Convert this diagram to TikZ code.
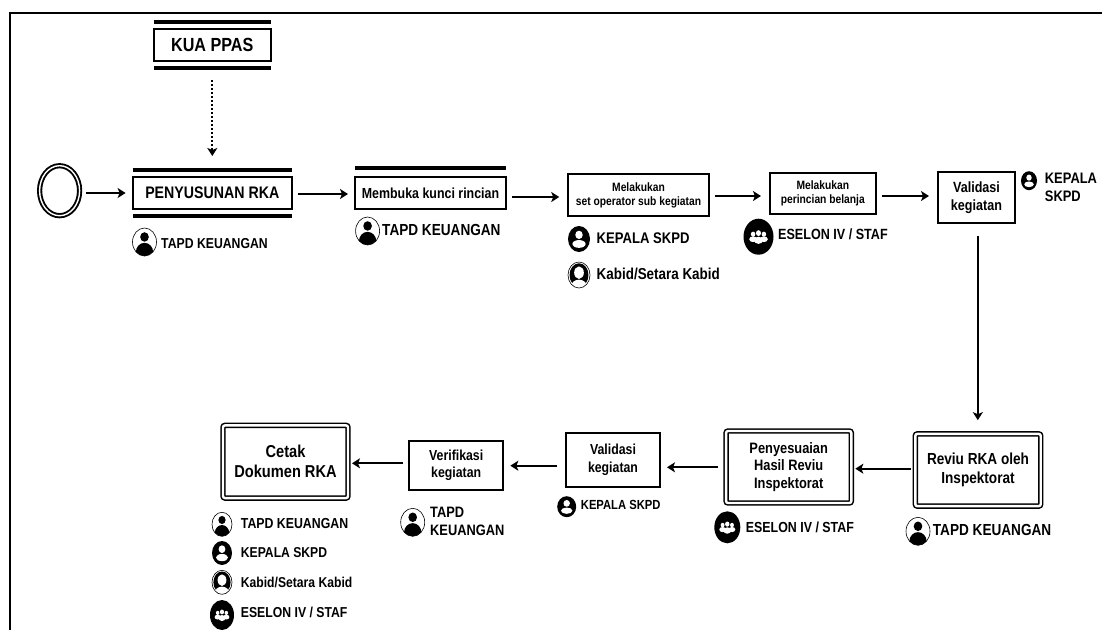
\documentclass[tikz,border=0pt]{standalone}
\usepackage{fontspec}
\setmainfont[FakeStretch=0.85]{Liberation Sans}
\usepackage{tikz}
\usetikzlibrary{shapes.geometric, arrows.meta, positioning, calc}
\newcommand{\fz}[2]{\fontsize{#1}{#2}\selectfont\bfseries}

\begin{document}
\begin{tikzpicture}[
    x=1pt, y=-1pt,
    box/.style 2 args={rectangle, draw, line width=1.9pt, inner sep=0pt, outer sep=0pt, minimum width=#1pt, minimum height=#2pt, align=center},
    dbox/.style 2 args={box={#1}{#2}, minimum width=#1pt-4pt, minimum height=#2pt-4pt, rounded corners=2pt, double, double distance=2.4pt, line width=1.5pt},
    bar/.style={line width=3.2pt},
    arrow/.style={-{Stealth[length=8pt, width=10pt, inset=2pt]}, line width=2pt, shorten <=6pt, shorten >=7pt},
    lbl/.style={inner sep=0pt, align=left},
    icon/.style 2 args={ellipse, inner sep=0pt, outer sep=0pt, minimum width=2*#1pt, minimum height=2*#2pt},
    tapdicon/.style 2 args={icon={#1}{#2}, draw, line width=.6pt, path picture={
        \begin{scope}[shift={(path picture bounding box.center)}, x=#1pt, y=#2pt]
        \fill (0,.36) ellipse [x radius=.36, y radius=.34];
        \fill (0,-.72) ellipse [x radius=.72, y radius=.66];
        \end{scope}}},
    kepalaicon/.style 2 args={icon={#1}{#2}, fill=black, path picture={
        \begin{scope}[shift={(path picture bounding box.center)}, x=#1pt, y=#2pt]
        \fill[white] (0,.32) ellipse [x radius=.34, y radius=.32];
        \fill[white] (0,-.38) ellipse [x radius=.6, y radius=.3];
        \end{scope}}},
    kabidicon/.style 2 args={icon={#1}{#2}, draw, line width=.6pt, path picture={
        \begin{scope}[shift={(path picture bounding box.center)}, x=#1pt, y=#2pt]
        \fill (0,0) ellipse [x radius=.86, y radius=.9];
        \fill[white] (0,.18) ellipse [x radius=.44, y radius=.48];
        \fill[white] (0,-.88) ellipse [x radius=.72, y radius=.52];
        \end{scope}}},
    eselonicon/.style 2 args={icon={#1}{#2}, fill=black, path picture={
        \begin{scope}[shift={(path picture bounding box.center)}, x=#1pt, y=#2pt]
        \fill[white] (-.36,.14) ellipse [x radius=.15, y radius=.14];
        \fill[white] (.36,.14) ellipse [x radius=.15, y radius=.14];
        \fill[white] (-.36,-.14) ellipse [x radius=.26, y radius=.16];
        \fill[white] (.36,-.14) ellipse [x radius=.26, y radius=.16];
        \fill[white] (0,.2) ellipse [x radius=.17, y radius=.16];
        \fill[white] (0,-.2) ellipse [x radius=.3, y radius=.2];
        \end{scope}}},
]
\useasboundingbox (0,0) rectangle (1102,630);

% Frame
\draw[line width=1.8pt] (10,630) |- (1102,13.3);

% Top row
\node[ellipse, draw, double, double distance=1.4pt, line width=1.9pt, inner sep=0pt, minimum width=40pt, minimum height=50pt] (start) at (59.6,190.7) {};
\node[box={117.4}{32}, font=\fz{19}{22}] (kua) at (212.3,45) {KUA PPAS};
\node[box={159.4}{32}, font=\fz{16.7}{20}] (penyusunan) at (212.3,193) {PENYUSUNAN RKA};
\node[box={151}{32}, font=\fz{14.6}{18}] (membuka) at (430.5,193) {Membuka kunci rincian};
\node[box={140.5}{42}, font=\fz{12.1}{14}] (operator) at (638.5,195) {Melakukan\\set operator sub kegiatan};
\node[box={105.7}{41.3}, font=\fz{12.1}{14}] (perincian) at (822.8,193.3) {Melakukan\\perincian belanja};
\node[box={77}{51}, font=\fz{14.8}{18}] (validasi) at (976.5,197.5) {Validasi\\kegiatan};

% Bottom row
\node[dbox={129.4}{76.3}, font=\fz{16}{18.7}] (reviu) at (978,470) {Reviu RKA oleh\\Inspektorat};
\node[dbox={129.3}{76}, font=\fz{15.1}{17.4}] (penyesuaian) at (788.7,467) {Penyesuaian\\Hasil Reviu\\Inspektorat};
\node[box={94}{53.4}, font=\fz{14.5}{17.7}] (validasiB) at (613,460) {Validasi\\kegiatan};
\node[box={94.3}{49}, font=\fz{14.5}{17.3}] (verifikasi) at (456.2,465.5) {Verifikasi\\kegiatan};
\node[dbox={129}{76.7}, font=\fz{17.2}{20}] (cetak) at (285.5,461.7) {Cetak\\Dokumen RKA};

% Bars
\draw[bar] ([yshift=7pt]kua.north west) -- ([yshift=7pt]kua.north east);
\draw[bar] ([yshift=-7pt]kua.south west) -- ([yshift=-7pt]kua.south east);
\draw[bar] ([yshift=7pt]penyusunan.north west) -- ([yshift=7pt]penyusunan.north east);
\draw[bar] ([yshift=-7pt]penyusunan.south west) -- ([yshift=-7pt]penyusunan.south east);
\draw[bar] ([yshift=9pt]membuka.north west) -- ([yshift=9pt]membuka.north east);

% Arrows
\draw[arrow, dash pattern=on 2pt off 2pt, shorten <=19pt, shorten >=21pt] (kua.south) -- (penyusunan.north);
\draw[arrow, shorten <=5pt] ([yshift=-2.3pt]start.east) -- ([yshift=-2.3pt]start.east -| penyusunan.west);
\draw[arrow] ([yshift=-1pt]penyusunan.east) -- ([yshift=-1pt]penyusunan.east -| membuka.west);
\draw[arrow, shorten >=9pt] ([yshift=-4pt]membuka.east) -- ([yshift=-4pt]membuka.east -| operator.west);
\draw[arrow, shorten >=9pt] ([yshift=-1pt]operator.east) -- ([yshift=-1pt]operator.east -| perincian.west);
\draw[arrow, shorten >=9pt] ([yshift=-2.7pt]perincian.east) -- ([yshift=-2.7pt]perincian.east -| validasi.west);
\draw[arrow, shorten <=13pt, shorten >=13.7pt] ([xshift=1.3pt]validasi.south) -- ([xshift=1.3pt]validasi.south |- reviu.north);
\draw[arrow, shorten <=4pt, shorten >=4pt] ([yshift=1.3pt]reviu.west) -- ([yshift=1.3pt]reviu.west -| penyesuaian.east);
\draw[arrow, shorten <=8pt] ([yshift=-.3pt]penyesuaian.west) -- ([yshift=-.3pt]penyesuaian.west -| validasiB.east);
\draw[arrow, shorten <=9pt] ([yshift=-5.7pt]validasiB.west) -- ([yshift=-5.7pt]validasiB.west -| verifikasi.east);
\draw[arrow, shorten >=4pt] ([yshift=2.2pt]verifikasi.west) -- ([yshift=2.2pt]verifikasi.west -| cetak.east);

% Icons and labels
\node[tapdicon={12}{14}] (tapdA) at (144.5,242) {};
\node[lbl, font=\fz{14.4}{17}, right=4.5pt of tapdA, yshift=-1.7pt] (tapdAtxt) {TAPD KEUANGAN};
\node[tapdicon={12}{14}] (tapdB) at (367.6,231) {};
\node[lbl, font=\fz{16}{18}, right=2.4pt of tapdB, yshift=1pt] (tapdBtxt) {TAPD KEUANGAN};
\node[kepalaicon={8}{9.5}] (kepalaA) at (1029,180.7) {};
\node[lbl, font=\fz{15.2}{18.7}, right=7.7pt of kepalaA, yshift=-6.7pt] (kepalaAtxt) {KEPALA\\SKPD};
\node[kepalaicon={11}{13}] (kepalaB) at (579,239) {};
\node[lbl, font=\fz{15.4}{18}, right=6.5pt of kepalaB, yshift=1.3pt] (kepalaBtxt) {KEPALA SKPD};
\node[kabidicon={11}{13}] (kabidA) at (579,275) {};
\node[lbl, font=\fz{15.8}{18}, right=6.5pt of kabidA, yshift=1pt] (kabidAtxt) {Kabid/Setara Kabid};
\node[eselonicon={15}{18}] (eselonA) at (758.5,236.7) {};
\node[lbl, font=\fz{14.8}{18}, right=4.5pt of eselonA, yshift=2pt] (eselonAtxt) {ESELON IV / STAF};
\node[tapdicon={12}{14}] (tapdC) at (918,531.3) {};
\node[lbl, font=\fz{16}{18}, right=2.7pt of tapdC, yshift=1.3pt] (tapdCtxt) {TAPD KEUANGAN};
\node[eselonicon={13}{16}] (eselonB) at (727.3,527.3) {};
\node[lbl, font=\fz{14.6}{18}, right=5.4pt of eselonB] (eselonBtxt) {ESELON IV / STAF};
\node[kepalaicon={9.5}{10.5}] (kepalaC) at (566.7,506.7) {};
\node[lbl, font=\fz{13.2}{16}, right=4.5pt of kepalaC, yshift=1.7pt] (kepalaCtxt) {KEPALA SKPD};
\node[tapdicon={12}{14}] (tapdD) at (412.7,522.3) {};
\node[lbl, font=\fz{15.1}{17.3}, right=5.3pt of tapdD, yshift=1pt] (tapdDtxt) {TAPD\\KEUANGAN};

% Icon list below the last box
\node[tapdicon={10}{12}] (tapdE) at (222,524.3) {};
\node[lbl, font=\fz{14.5}{17}, right=8.7pt of tapdE, yshift=1pt] (tapdEtxt) {TAPD KEUANGAN};
\node[kepalaicon={10}{12}] (kepalaD) at (222,553) {};
\node[lbl, font=\fz{14.3}{17}, right=8.7pt of kepalaD] (kepalaDtxt) {KEPALA SKPD};
\node[kabidicon={10}{12}] (kabidB) at (222,582.3) {};
\node[lbl, font=\fz{14.3}{17}, right=8.7pt of kabidB] (kabidBtxt) {Kabid/Setara Kabid};
\node[eselonicon={12}{15}] (eselonC) at (222,615) {};
\node[lbl, font=\fz{14.4}{17}, right=6.7pt of eselonC, yshift=3pt] (eselonCtxt) {ESELON IV / STAF};

\end{tikzpicture}
\end{document}
